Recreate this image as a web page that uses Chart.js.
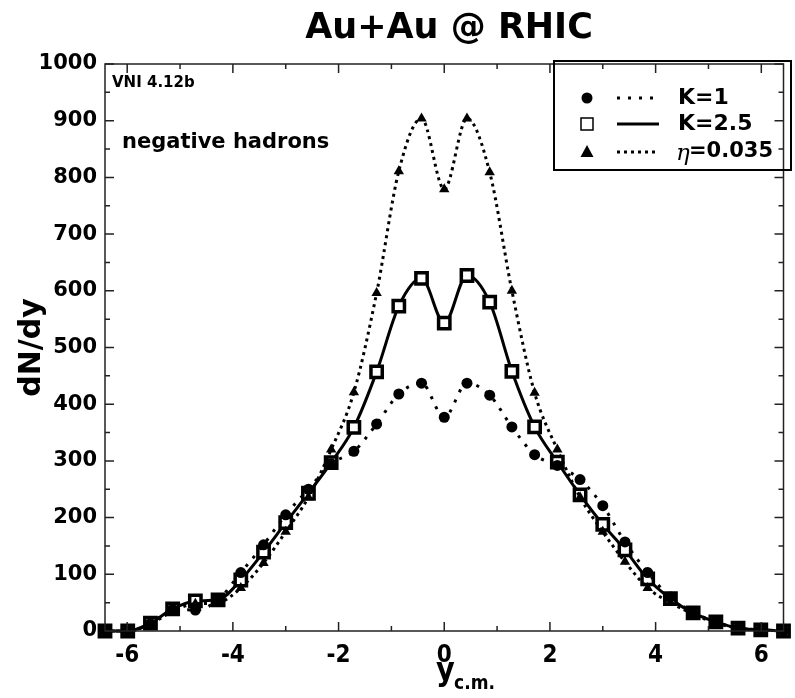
<!DOCTYPE html>
<html>
<head>
<meta charset="utf-8">
<title>Au+Au @ RHIC</title>
<script src="https://cdn.jsdelivr.net/npm/chart.js@4.4.1/dist/chart.umd.min.js"></script>
<style>
  html, body { margin: 0; padding: 0; background: #fff; }
  #wrap { width: 795px; height: 698px; }
</style>
</head>
<body>
<div id="wrap"><canvas id="dndyChart" width="795" height="698"></canvas></div>
<script>
// ---------------------------------------------------------------
// DATA
// ---------------------------------------------------------------
const rapidity = [-6.42, -5.99, -5.56, -5.14, -4.71, -4.28, -3.85, -3.42, -3.00, -2.57, -2.14,
                  -1.71, -1.28, -0.86, -0.43, 0.00, 0.43, 0.86, 1.28, 1.71, 2.14, 2.57,
                  3.00, 3.42, 3.85, 4.28, 4.71, 5.14, 5.56, 5.99, 6.42];

const dndyK1 = [0, 0, 13, 38, 37, 55, 103, 152, 205, 250, 295,
                317, 365, 418, 437, 377, 437, 416, 360, 311, 292, 267,
                221, 157, 103, 60, 33, 16, 5, 2, 0];

const dndyK25 = [0, 0, 14, 39, 53, 55, 90, 139, 191, 243, 297,
                 359, 457, 573, 622, 543, 627, 580, 458, 360, 298, 240,
                 188, 143, 92, 57, 32, 16, 5, 2, 0];

const dndyEta = [0, 0, 12, 35, 48, 50, 76, 120, 175, 236, 320,
                 421, 596, 811, 904, 779, 904, 809, 600, 420, 320, 236,
                 175, 122, 76, 50, 30, 14, 5, 2, 0];

const xMajorTicks = [-6, -4, -2, 0, 2, 4, 6];
const xMinorTicks = [-5, -3, -1, 1, 3, 5];
const yMajorTicks = [0, 100, 200, 300, 400, 500, 600, 700, 800, 900, 1000];
const yMinorTicks = [50, 150, 250, 350, 450, 550, 650, 750, 850, 950];

const seriesLabels = ['K=1', 'K=2.5', '=0.035'];

// ---------------------------------------------------------------
// HELPERS
// ---------------------------------------------------------------
const SANS = '"DejaVu Sans", "Liberation Sans", sans-serif';
const SANS_COND = '"DejaVu Sans Condensed", "DejaVu Sans", sans-serif';

function toPoints(ys) {
    return rapidity.map((x, i) => ({ x: x, y: ys[i] }));
}

// frame, inward ticks, titles, annotations and legend
const decorPlugin = {
    id: 'decor',
    afterDraw(chart) {
        const ctx = chart.ctx;
        const a = chart.chartArea;
        const xs = chart.scales.x;
        const ys = chart.scales.y;

        ctx.save();
        // frame
        ctx.strokeStyle = '#222';
        ctx.lineWidth = 1.5;
        ctx.strokeRect(a.left, a.top, a.right - a.left, a.bottom - a.top);

        // ticks (inward on all four sides)
        ctx.beginPath();
        const tickX = (v, len) => {
            const px = xs.getPixelForValue(v);
            ctx.moveTo(px, a.bottom); ctx.lineTo(px, a.bottom - len);
            ctx.moveTo(px, a.top); ctx.lineTo(px, a.top + len);
        };
        const tickY = (v, len) => {
            const py = ys.getPixelForValue(v);
            ctx.moveTo(a.left, py); ctx.lineTo(a.left + len, py);
            ctx.moveTo(a.right, py); ctx.lineTo(a.right - len, py);
        };
        xMajorTicks.forEach(v => tickX(v, 9));
        xMinorTicks.forEach(v => tickX(v, 5));
        yMajorTicks.forEach(v => tickY(v, 9));
        yMinorTicks.forEach(v => tickY(v, 5));
        ctx.stroke();

        ctx.fillStyle = '#000';

        // main title
        ctx.font = 'bold 35px ' + SANS;
        ctx.textAlign = 'center';
        ctx.textBaseline = 'alphabetic';
        ctx.fillText('Au+Au @ RHIC', 449, 38);

        // y axis title
        ctx.save();
        ctx.translate(40, (a.top + a.bottom) / 2);
        ctx.rotate(-Math.PI / 2);
        ctx.font = 'bold 30px ' + SANS;
        ctx.fillText('dN/dy', 0, 0);
        ctx.restore();

        // x axis title with subscript
        ctx.textAlign = 'left';
        ctx.font = 'bold 32px ' + SANS_COND;
        ctx.fillText('y', 436, 680);
        ctx.font = 'bold 19px ' + SANS_COND;
        ctx.fillText('c.m.', 454, 689);

        // annotations
        ctx.font = 'bold 15px ' + SANS;
        ctx.fillText('VNI 4.12b', 112, 87);
        ctx.font = 'bold 21px ' + SANS;
        ctx.fillText('negative hadrons', 122, 148);

        // legend box
        ctx.lineWidth = 2;
        ctx.strokeStyle = '#000';
        ctx.strokeRect(554, 61, 237, 109);

        const rows = [98, 124, 152];
        chart.data.datasets.forEach((ds, i) => {
            const y = rows[i];
            // marker
            ctx.save();
            ctx.fillStyle = '#000';
            ctx.strokeStyle = '#000';
            if (ds.pointStyle === 'circle') {
                ctx.beginPath(); ctx.arc(587, y, 5.5, 0, Math.PI * 2); ctx.fill();
            } else if (ds.pointStyle === 'rect') {
                ctx.lineWidth = 1.5;
                ctx.fillStyle = '#fff';
                ctx.fillRect(581, y - 6, 12, 12);
                ctx.strokeRect(581, y - 6, 12, 12);
            } else {
                ctx.beginPath();
                ctx.moveTo(587, y - 7); ctx.lineTo(593.5, y + 5); ctx.lineTo(580.5, y + 5);
                ctx.closePath(); ctx.fill();
            }
            // line sample
            ctx.lineWidth = ds.borderWidth;
            ctx.setLineDash(ds.borderDash || []);
            ctx.beginPath(); ctx.moveTo(617, y); ctx.lineTo(659, y); ctx.stroke();
            ctx.restore();

            // label
            ctx.textBaseline = 'middle';
            ctx.font = 'bold 22px ' + SANS;
            if (i === 2) {
                ctx.font = 'italic 23px "DejaVu Serif", serif';
                ctx.fillText('\u03B7', 676, y + 2);
                ctx.font = 'bold 21px ' + SANS;
                ctx.fillText(seriesLabels[i], 689, y);
            } else {
                ctx.fillText(seriesLabels[i], 678, y);
            }
        });
        ctx.restore();
    }
};

// ---------------------------------------------------------------
// CHART
// ---------------------------------------------------------------
const ctx = document.getElementById('dndyChart');

new Chart(ctx, {
    type: 'line',
    data: {
        datasets: [
            {
                label: 'K=1',
                data: toPoints(dndyK1),
                borderColor: '#000',
                borderWidth: 3,
                borderDash: [3, 8],
                pointStyle: 'circle',
                pointRadius: 5.5,
                pointBackgroundColor: '#000',
                pointBorderColor: '#000',
                pointBorderWidth: 0,
                cubicInterpolationMode: 'monotone',
                clip: false,
                order: 1
            },
            {
                label: 'K=2.5',
                data: toPoints(dndyK25),
                borderColor: '#000',
                borderWidth: 3,
                pointStyle: 'rect',
                pointRadius: 8,
                pointBackgroundColor: '#fff',
                pointBorderColor: '#000',
                pointBorderWidth: 3.5,
                cubicInterpolationMode: 'monotone',
                clip: false,
                order: 2
            },
            {
                label: '\u03B7=0.035',
                data: toPoints(dndyEta),
                borderColor: '#000',
                borderWidth: 3,
                borderDash: [3, 4],
                pointStyle: 'triangle',
                pointRadius: 6,
                pointBackgroundColor: '#000',
                pointBorderColor: '#000',
                pointBorderWidth: 0,
                cubicInterpolationMode: 'monotone',
                clip: false,
                order: 0
            }
        ]
    },
    options: {
        responsive: false,
        animation: false,
        layout: { padding: { top: 64, right: 4, left: 0, bottom: 0 } },
        plugins: {
            legend: { display: false },
            tooltip: { enabled: false },
            title: { display: false }
        },
        scales: {
            x: {
                type: 'linear',
                min: -6.42,
                max: 6.42,
                grid: { display: false, drawTicks: false },
                border: { display: false },
                afterBuildTicks: (scale) => { scale.ticks = xMajorTicks.map(v => ({ value: v })); },
                afterFit: (scale) => { scale.height = 67; },
                ticks: {
                    color: '#000',
                    padding: 10,
                    maxRotation: 0,
                    callback: (v) => String(v),
                    font: { family: SANS_COND, size: 24, weight: 'bold' }
                }
            },
            y: {
                type: 'linear',
                min: 0,
                max: 1000,
                grid: { display: false, drawTicks: false },
                border: { display: false },
                afterBuildTicks: (scale) => { scale.ticks = yMajorTicks.map(v => ({ value: v })); },
                afterFit: (scale) => { scale.width = 105; },
                ticks: {
                    color: '#000',
                    padding: 8,
                    callback: (v) => String(v),
                    font: { family: SANS, size: 21, weight: 'bold' }
                }
            }
        }
    },
    plugins: [decorPlugin]
});
</script>
</body>
</html>
